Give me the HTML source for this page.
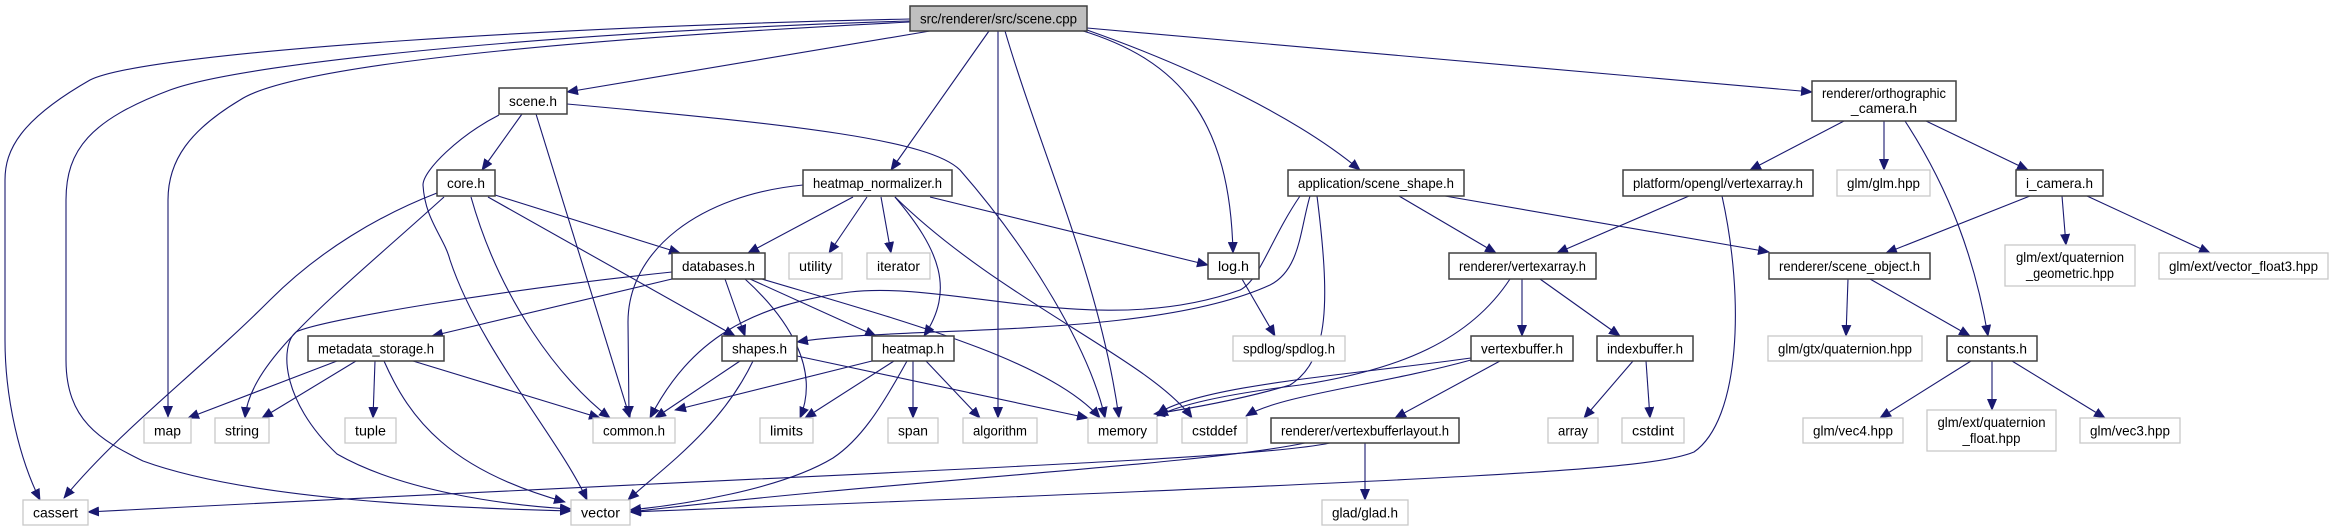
<!DOCTYPE html>
<html><head><meta charset="utf-8"><style>
html,body{margin:0;padding:0;background:#fff;}
svg{display:block;}
text{font-family:"Liberation Sans",Arial,sans-serif;font-size:14px;fill:#000;}
.d{fill:#fff;stroke:#404040;stroke-width:1.5;}
.g{fill:#fff;stroke:#c8c8c8;stroke-width:1.3;}
.r{fill:#bfbfbf;stroke:#404040;stroke-width:1.5;}
.e{fill:none;stroke:#191970;stroke-width:1.1;marker-end:url(#a);}
</style></head><body>
<svg width="2334" height="529" viewBox="0 0 2334 529" xmlns="http://www.w3.org/2000/svg">
<defs><marker id="a" markerWidth="12" markerHeight="10" refX="11" refY="5" orient="auto" markerUnits="userSpaceOnUse"><path d="M0,0 L12,5 L0,10 Z" fill="#191970"/></marker></defs>

<path class="e" d="M910,19 C600,25 150,50 90,80 C20,120 5,150 5,180 L5,340 C5,400 20,460 40,500"/>
<path class="e" d="M910,21 C600,30 250,60 170,90 C90,120 66,150 66,200 L66,360 C66,420 100,440 143,461 C250,500 450,508 571,511"/>
<path class="e" d="M910,22 C650,35 300,60 240,100 C190,130 168,160 168,200 L168,417"/>
<path class="e" d="M930,31 L567,92"/>
<path class="e" d="M989,31 L891,170"/>
<path class="e" d="M998,31 L998,418"/>
<path class="e" d="M1005,31 C1040,150 1100,280 1119,418"/>
<path class="e" d="M1080,30 C1180,60 1230,120 1233,253"/>
<path class="e" d="M1087,30 C1200,70 1300,120 1360,170"/>
<path class="e" d="M1087,28 L1812,92"/>

<path class="e" d="M522,114 L482,170"/>
<path class="e" d="M536,114 L630,418"/>
<path class="e" d="M499,115 C460,135 423,170 423,185 C425,220 444,237 450,260 C480,350 560,440 587,500"/>
<path class="e" d="M567,104 C800,125 930,140 960,170 C1030,250 1090,350 1105,418"/>

<path class="e" d="M495,195 L680,253"/>
<path class="e" d="M488,197 L735,336"/>
<path class="e" d="M471,197 C500,300 560,380 610,418"/>
<path class="e" d="M444,197 C330,300 250,360 245,418"/>
<path class="e" d="M437,193 C380,215 320,250 270,300 C200,370 120,430 64,498"/>

<path class="e" d="M853,197 L748,253"/>
<path class="e" d="M867,197 L829,253"/>
<path class="e" d="M881,197 L891,253"/>
<path class="e" d="M895,197 C940,250 955,290 924,336"/>
<path class="e" d="M930,197 L1208,265"/>
<path class="e" d="M895,197 C1000,300 1150,360 1192,418"/>
<path class="e" d="M803,185 C700,195 628,250 628,322 L629,417"/>

<path class="e" d="M725,279 L745,336"/>
<path class="e" d="M750,279 L876,336"/>
<path class="e" d="M672,279 L432,336"/>
<path class="e" d="M672,272 C500,290 320,320 296,332 C280,345 280,400 337,454 C400,490 500,505 571,509"/>
<path class="e" d="M745,279 C790,320 820,370 800,418"/>
<path class="e" d="M762,279 C900,320 1050,360 1100,418"/>

<path class="e" d="M1300,196 C1270,240 1260,280 1240,290 C1100,340 950,280 850,292 C750,305 690,340 650,418"/>
<path class="e" d="M1310,196 C1300,230 1300,270 1270,285 C1150,340 900,325 797,342"/>
<path class="e" d="M1317,196 C1330,300 1330,360 1290,385 C1240,400 1180,410 1154,414"/>
<path class="e" d="M1399,196 L1496,253"/>
<path class="e" d="M1445,196 L1769,252"/>

<path class="e" d="M872,361 L675,410"/>
<path class="e" d="M894,361 L805,418"/>
<path class="e" d="M913,361 L913,418"/>
<path class="e" d="M926,361 L980,418"/>
<path class="e" d="M907,361 C880,410 860,440 833,458 C780,490 680,505 630,510"/>

<path class="e" d="M740,361 L655,418"/>
<path class="e" d="M753,361 C720,430 660,470 628,500"/>
<path class="e" d="M797,356 L1088,418"/>

<path class="e" d="M337,361 L188,418"/>
<path class="e" d="M356,361 L262,418"/>
<path class="e" d="M375,361 L373,418"/>
<path class="e" d="M413,361 L600,418"/>
<path class="e" d="M384,361 C410,420 450,470 565,502"/>

<path class="e" d="M1242,279 L1275,336"/>

<path class="e" d="M1844,121 L1750,170"/>
<path class="e" d="M1884,121 L1884,170"/>
<path class="e" d="M1926,121 L2028,170"/>
<path class="e" d="M1905,121 C1950,190 1975,260 1988,336"/>

<path class="e" d="M1689,196 L1557,253"/>
<path class="e" d="M1722,196 C1745,300 1740,420 1694,452 C1650,470 1500,478 630,512"/>

<path class="e" d="M2030,196 L1886,253"/>
<path class="e" d="M2062,196 L2066,245"/>
<path class="e" d="M2087,196 L2210,253"/>

<path class="e" d="M1522,279 L1522,336"/>
<path class="e" d="M1540,279 L1620,336"/>
<path class="e" d="M1510,279 C1470,340 1400,370 1300,385 C1220,395 1180,405 1157,416"/>

<path class="e" d="M1471,358 C1350,375 1200,385 1157,414"/>
<path class="e" d="M1471,360 C1380,385 1280,395 1246,416"/>
<path class="e" d="M1500,361 L1395,418"/>

<path class="e" d="M1365,443 L1365,500"/>
<path class="e" d="M1305,443 C1200,465 900,480 630,512"/>
<path class="e" d="M1330,443 C1250,460 900,470 88,512"/>

<path class="e" d="M1633,361 L1584,418"/>
<path class="e" d="M1646,361 L1650,418"/>

<path class="e" d="M1848,279 L1846,336"/>
<path class="e" d="M1870,279 L1970,336"/>

<path class="e" d="M1971,361 L1880,418"/>
<path class="e" d="M1992,361 L1992,410"/>
<path class="e" d="M2012,361 L2105,418"/>

<g>
<rect class="r" x="910" y="6" width="177" height="25"/><text x="998.5" y="23.5" text-anchor="middle" textLength="157" lengthAdjust="spacingAndGlyphs">src/renderer/src/scene.cpp</text>

<rect class="d" x="499" y="88" width="68" height="26"/><text x="533" y="106" text-anchor="middle" textLength="48" lengthAdjust="spacingAndGlyphs">scene.h</text>
<rect class="d" x="1812" y="81" width="144" height="40"/><text x="1884" y="98" text-anchor="middle" textLength="124" lengthAdjust="spacingAndGlyphs">renderer/orthographic</text><text x="1884" y="113" text-anchor="middle">_camera.h</text>

<rect class="d" x="437" y="170" width="58" height="26"/><text x="466" y="188" text-anchor="middle" textLength="38" lengthAdjust="spacingAndGlyphs">core.h</text>
<rect class="d" x="803" y="170" width="149" height="26"/><text x="877.5" y="188" text-anchor="middle" textLength="129" lengthAdjust="spacingAndGlyphs">heatmap_normalizer.h</text>
<rect class="d" x="1288" y="170" width="176" height="26"/><text x="1376" y="188" text-anchor="middle" textLength="156" lengthAdjust="spacingAndGlyphs">application/scene_shape.h</text>
<rect class="d" x="1623" y="170" width="190" height="26"/><text x="1718" y="188" text-anchor="middle" textLength="170" lengthAdjust="spacingAndGlyphs">platform/opengl/vertexarray.h</text>
<rect class="g" x="1837" y="170" width="93" height="26"/><text x="1883.5" y="188" text-anchor="middle" textLength="73" lengthAdjust="spacingAndGlyphs">glm/glm.hpp</text>
<rect class="d" x="2016" y="170" width="87" height="26"/><text x="2059.5" y="188" text-anchor="middle" textLength="67" lengthAdjust="spacingAndGlyphs">i_camera.h</text>

<rect class="d" x="672" y="253" width="93" height="26"/><text x="718.5" y="271" text-anchor="middle" textLength="73" lengthAdjust="spacingAndGlyphs">databases.h</text>
<rect class="g" x="789" y="253" width="53" height="26"/><text x="815.5" y="271" text-anchor="middle" textLength="33" lengthAdjust="spacingAndGlyphs">utility</text>
<rect class="g" x="867" y="253" width="63" height="26"/><text x="898.5" y="271" text-anchor="middle" textLength="43" lengthAdjust="spacingAndGlyphs">iterator</text>
<rect class="d" x="1208" y="253" width="51" height="26"/><text x="1233.5" y="271" text-anchor="middle" textLength="31" lengthAdjust="spacingAndGlyphs">log.h</text>
<rect class="d" x="1449" y="253" width="147" height="26"/><text x="1522.5" y="271" text-anchor="middle" textLength="127" lengthAdjust="spacingAndGlyphs">renderer/vertexarray.h</text>
<rect class="d" x="1769" y="253" width="161" height="26"/><text x="1849.5" y="271" text-anchor="middle" textLength="141" lengthAdjust="spacingAndGlyphs">renderer/scene_object.h</text>
<rect class="g" x="2005" y="245" width="130" height="41"/><text x="2070" y="262" text-anchor="middle" textLength="108" lengthAdjust="spacingAndGlyphs">glm/ext/quaternion</text><text x="2070" y="278" text-anchor="middle" textLength="88" lengthAdjust="spacingAndGlyphs">_geometric.hpp</text>
<rect class="g" x="2159" y="253" width="169" height="26"/><text x="2243.5" y="271" text-anchor="middle" textLength="149" lengthAdjust="spacingAndGlyphs">glm/ext/vector_float3.hpp</text>

<rect class="d" x="308" y="336" width="136" height="25"/><text x="376" y="353.5" text-anchor="middle" textLength="116" lengthAdjust="spacingAndGlyphs">metadata_storage.h</text>
<rect class="d" x="722" y="336" width="75" height="25"/><text x="759.5" y="353.5" text-anchor="middle" textLength="55" lengthAdjust="spacingAndGlyphs">shapes.h</text>
<rect class="d" x="872" y="336" width="82" height="25"/><text x="913" y="353.5" text-anchor="middle" textLength="62" lengthAdjust="spacingAndGlyphs">heatmap.h</text>
<rect class="g" x="1233" y="336" width="112" height="25"/><text x="1289" y="353.5" text-anchor="middle" textLength="92" lengthAdjust="spacingAndGlyphs">spdlog/spdlog.h</text>
<rect class="d" x="1471" y="336" width="102" height="25"/><text x="1522" y="353.5" text-anchor="middle" textLength="82" lengthAdjust="spacingAndGlyphs">vertexbuffer.h</text>
<rect class="d" x="1597" y="336" width="96" height="25"/><text x="1645" y="353.5" text-anchor="middle" textLength="76" lengthAdjust="spacingAndGlyphs">indexbuffer.h</text>
<rect class="g" x="1768" y="336" width="154" height="25"/><text x="1845" y="353.5" text-anchor="middle" textLength="134" lengthAdjust="spacingAndGlyphs">glm/gtx/quaternion.hpp</text>
<rect class="d" x="1947" y="336" width="90" height="25"/><text x="1992" y="353.5" text-anchor="middle" textLength="70" lengthAdjust="spacingAndGlyphs">constants.h</text>

<rect class="g" x="144" y="418" width="47" height="25"/><text x="167.5" y="435.5" text-anchor="middle" textLength="27" lengthAdjust="spacingAndGlyphs">map</text>
<rect class="g" x="215" y="418" width="54" height="25"/><text x="242" y="435.5" text-anchor="middle" textLength="34" lengthAdjust="spacingAndGlyphs">string</text>
<rect class="g" x="345" y="418" width="51" height="25"/><text x="370.5" y="435.5" text-anchor="middle" textLength="31" lengthAdjust="spacingAndGlyphs">tuple</text>
<rect class="g" x="593" y="418" width="82" height="25"/><text x="634" y="435.5" text-anchor="middle" textLength="62" lengthAdjust="spacingAndGlyphs">common.h</text>
<rect class="g" x="760" y="418" width="53" height="25"/><text x="786.5" y="435.5" text-anchor="middle" textLength="33" lengthAdjust="spacingAndGlyphs">limits</text>
<rect class="g" x="888" y="418" width="50" height="25"/><text x="913" y="435.5" text-anchor="middle" textLength="30" lengthAdjust="spacingAndGlyphs">span</text>
<rect class="g" x="963" y="418" width="74" height="25"/><text x="1000" y="435.5" text-anchor="middle" textLength="54" lengthAdjust="spacingAndGlyphs">algorithm</text>
<rect class="g" x="1088" y="418" width="69" height="25"/><text x="1122.5" y="435.5" text-anchor="middle" textLength="49" lengthAdjust="spacingAndGlyphs">memory</text>
<rect class="g" x="1182" y="418" width="65" height="25"/><text x="1214.5" y="435.5" text-anchor="middle" textLength="45" lengthAdjust="spacingAndGlyphs">cstddef</text>
<rect class="d" x="1271" y="418" width="188" height="25"/><text x="1365" y="435.5" text-anchor="middle" textLength="168" lengthAdjust="spacingAndGlyphs">renderer/vertexbufferlayout.h</text>
<rect class="g" x="1548" y="418" width="50" height="25"/><text x="1573" y="435.5" text-anchor="middle" textLength="30" lengthAdjust="spacingAndGlyphs">array</text>
<rect class="g" x="1622" y="418" width="62" height="25"/><text x="1653" y="435.5" text-anchor="middle" textLength="42" lengthAdjust="spacingAndGlyphs">cstdint</text>
<rect class="g" x="1803" y="418" width="100" height="25"/><text x="1853" y="435.5" text-anchor="middle" textLength="80" lengthAdjust="spacingAndGlyphs">glm/vec4.hpp</text>
<rect class="g" x="1927" y="410" width="129" height="41"/><text x="1991.5" y="427" text-anchor="middle" textLength="108" lengthAdjust="spacingAndGlyphs">glm/ext/quaternion</text><text x="1991.5" y="443" text-anchor="middle" textLength="58" lengthAdjust="spacingAndGlyphs">_float.hpp</text>
<rect class="g" x="2080" y="418" width="100" height="25"/><text x="2130" y="435.5" text-anchor="middle" textLength="80" lengthAdjust="spacingAndGlyphs">glm/vec3.hpp</text>

<rect class="g" x="23" y="500" width="65" height="25"/><text x="55.5" y="517.5" text-anchor="middle" textLength="45" lengthAdjust="spacingAndGlyphs">cassert</text>
<rect class="g" x="571" y="500" width="59" height="25"/><text x="600.5" y="517.5" text-anchor="middle" textLength="39" lengthAdjust="spacingAndGlyphs">vector</text>
<rect class="g" x="1322" y="500" width="86" height="25"/><text x="1365" y="517.5" text-anchor="middle" textLength="66" lengthAdjust="spacingAndGlyphs">glad/glad.h</text>
</g>
</svg>
</body></html>
